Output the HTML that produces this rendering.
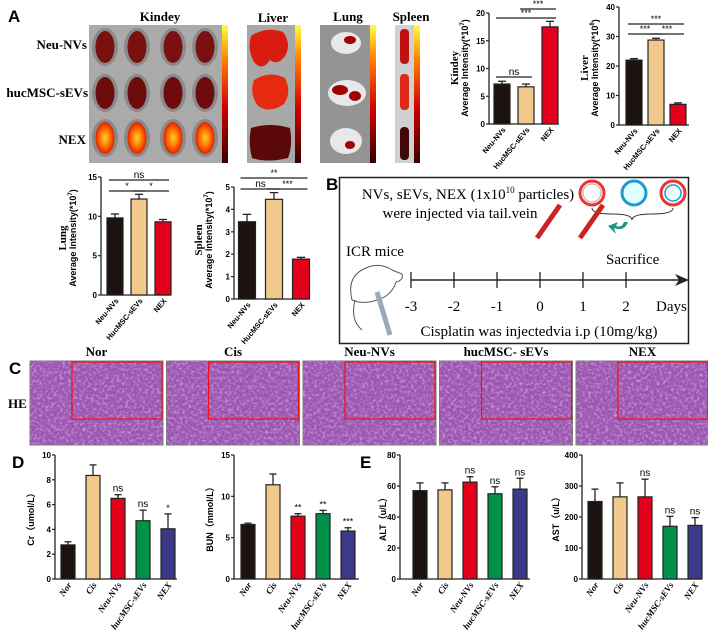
<!DOCTYPE html>
<html><head><meta charset="utf-8"><style>
html,body{margin:0;padding:0;background:#fff;}
svg{display:block;font-family:"Liberation Sans",sans-serif;}
.serif{font-family:"Liberation Serif",serif;}
</style></head><body>
<svg id="fig" width="708" height="641" viewBox="0 0 708 641" xmlns="http://www.w3.org/2000/svg">
<defs>
<filter id="noise" x="0" y="0" width="100%" height="100%"><feTurbulence type="fractalNoise" baseFrequency="0.9" numOctaves="2" seed="3"/><feColorMatrix type="matrix" values="0 0 0 0 0.55  0 0 0 0 0.55  0 0 0 0 0.55  0 0 0 0.6 0"/></filter>
<filter id="tissue" x="0" y="0" width="100%" height="100%"><feTurbulence type="fractalNoise" baseFrequency="0.35" numOctaves="3" seed="7"/><feColorMatrix type="matrix" values="0 0 0 0 0.9  0 0 0 0 0.85  0 0 0 0 0.95  1.6 0 0 0 -0.7"/></filter>
<linearGradient id="cbar" x1="0" y1="1" x2="0" y2="0"><stop offset="0" stop-color="#3a0000"/><stop offset="0.4" stop-color="#d00000"/><stop offset="0.75" stop-color="#ff8000"/><stop offset="1" stop-color="#ffff40"/></linearGradient>
<radialGradient id="hot"><stop offset="0" stop-color="#ffd030"/><stop offset="0.6" stop-color="#ff6a00"/><stop offset="1" stop-color="#e02000"/></radialGradient>
</defs>

<text x="8" y="22" font-size="17" font-weight="bold">A</text>
<text x="326" y="190" font-size="17" font-weight="bold">B</text>
<text x="9" y="374" font-size="17" font-weight="bold">C</text>
<text x="12" y="468" font-size="17" font-weight="bold">D</text>
<text x="360" y="468" font-size="17" font-weight="bold">E</text>

<g class="serif" font-weight="bold">
<text x="160" y="21" font-size="13" text-anchor="middle">Kindey</text>
<text x="273" y="22" font-size="13" text-anchor="middle">Liver</text>
<text x="348" y="21" font-size="13" text-anchor="middle">Lung</text>
<text x="411" y="21" font-size="13" text-anchor="middle">Spleen</text>
<text x="87" y="49" font-size="13" text-anchor="end">Neu-NVs</text>
<text x="88" y="97" font-size="13" text-anchor="end">hucMSC-sEVs</text>
<text x="86" y="144" font-size="13" text-anchor="end">NEX</text>
</g>
<g id="imaging">
<rect x="89" y="25" width="133" height="138" fill="#a6a6a6"/>
<rect x="89" y="25" width="133" height="138" filter="url(#noise)" opacity="0.5"/>
<rect x="222" y="25" width="6" height="138" fill="url(#cbar)"/>
<rect x="247" y="25" width="48" height="138" fill="#a8a8a8"/>
<rect x="295" y="25" width="6" height="138" fill="url(#cbar)"/>
<rect x="320" y="25" width="50" height="138" fill="#8c8c8c"/>
<rect x="320" y="25" width="50" height="138" filter="url(#noise)" opacity="0.5"/>
<rect x="370" y="25" width="6" height="138" fill="url(#cbar)"/>
<rect x="395" y="25" width="19" height="138" fill="#d0d0d0"/>
<rect x="414" y="25" width="6" height="138" fill="url(#cbar)"/>
<path d="M251 36 Q266 26 283 32 Q292 44 285 56 Q278 66 270 60 Q262 72 254 62 Q247 50 251 36Z" fill="#d81c10"/>
<path d="M254 80 Q270 70 285 78 Q292 92 284 104 Q270 114 258 106 Q249 94 254 80Z" fill="#e62a10"/>
<path d="M251 128 Q270 122 290 128 Q293 145 288 158 Q268 163 252 158 Q248 142 251 128Z" fill="#5a0808"/>
<g fill="#e8e8e8"><ellipse cx="346" cy="43" rx="15" ry="11"/><ellipse cx="347" cy="93" rx="19" ry="13"/><ellipse cx="346" cy="141" rx="16" ry="13"/></g>
<g fill="#a00000"><ellipse cx="350" cy="40" rx="6" ry="4"/><ellipse cx="340" cy="90" rx="8" ry="5"/><ellipse cx="355" cy="96" rx="6" ry="5"/><ellipse cx="350" cy="145" rx="5" ry="4"/></g>
<rect x="400" y="29" width="9" height="35" rx="4" fill="#c01010"/>
<rect x="400" y="74" width="9" height="36" rx="4" fill="#e02818"/>
<rect x="400" y="127" width="9" height="33" rx="4" fill="#400808"/>
</g>

<g>
<rect x="339.5" y="177.5" width="349" height="166" fill="none" stroke="#222" stroke-width="1.5"/>
<text class="serif" x="468" y="199" font-size="15" text-anchor="middle">NVs, sEVs, NEX (1x10<tspan font-size="9" dy="-6">10</tspan><tspan dy="6"> particles)</tspan></text>
<text class="serif" x="460" y="218" font-size="15" text-anchor="middle">were injected via tail.vein</text>
<g>
<circle cx="592" cy="193" r="12" fill="none" stroke="#e33" stroke-width="3"/><circle cx="592" cy="193" r="9" fill="#fff" stroke="#aaa" stroke-width="1"/>
<circle cx="634" cy="193" r="12" fill="#dff" stroke="#29c" stroke-width="3"/>
<circle cx="673" cy="193" r="12" fill="#eff" stroke="#e33" stroke-width="3"/><circle cx="673" cy="193" r="8" fill="none" stroke="#29c" stroke-width="1.5"/>
<path d="M592 208 Q592 214 612 214 Q632 214 632 220 Q632 214 652 214 Q673 214 673 208" fill="none" stroke="#333"/>
<path d="M628 222 Q624 232 614 228 L616 234 L608 226 L618 222 L616 226 Q622 228 624 222Z" fill="#1a9a7a"/>
</g>
<text class="serif" x="346" y="256" font-size="15">ICR mice</text>
<path d="M352 300 Q346 276 366 268 Q380 262 392 270 L402 274 Q404 280 396 282 Q394 290 386 296 Q372 304 358 302Z" fill="#fff" stroke="#555"/>
<path d="M355 300 Q350 320 362 330" fill="none" stroke="#555"/>
<line x1="377" y1="292" x2="390" y2="335" stroke="#9ab" stroke-width="5"/>
<line x1="537" y1="238" x2="560" y2="205" stroke="#c22" stroke-width="5"/>
<line x1="580" y1="238" x2="603" y2="205" stroke="#c22" stroke-width="5"/>
<text class="serif" x="606" y="264" font-size="15">Sacrifice</text>
<line x1="411" y1="280" x2="684" y2="280" stroke="#222" stroke-width="1.5"/>
<path d="M689 280 L675 274 L679 280 L675 286Z" fill="#222"/>
<g id="timeline" class="serif" font-size="15"></g>
<text class="serif" x="656" y="311" font-size="15">Days</text>
<text class="serif" x="539" y="336" font-size="15" text-anchor="middle">Cisplatin was injectedvia i.p (10mg/kg)</text>
</g>

<g id="histo"></g>
<text class="serif" x="8" y="408" font-size="13" font-weight="bold">HE</text>

<g id="charts"></g>
</svg>
<script>
const groupsA = ["Neu-NVs","HucMSC-sEVs","NEX"];
const colorsA = ["#1c1210","#f2c98c","#e3001b"];
const kidneyVals = [7.2, 6.7, 17.5];
const kidneyErrs = [0.5, 0.5, 1.0];
const kidneyTicks = [0,5,10,15,20];
const liverVals = [22, 28.8, 7];
const liverErrs = [0.5, 0.6, 0.5];
const liverTicks = [0,10,20,30,40];
const lungVals = [9.8, 12.2, 9.3];
const lungErrs = [0.5, 0.6, 0.3];
const lungTicks = [0,5,10,15];
const spleenVals = [3.45, 4.45, 1.78];
const spleenErrs = [0.33, 0.3, 0.08];
const spleenTicks = [0,1,2,3,4,5];
const groupsD = ["Nor","Cis","Neu-NVs","hucMSC-sEVs","NEX"];
const colorsD = ["#1c1210","#f2c98c","#e3001b","#00904a","#3c3a88"];
const crVals = [2.75, 8.35, 6.5, 4.7, 4.05];
const crErrs = [0.25, 0.85, 0.3, 0.85, 1.2];
const crTicks = [0,2,4,6,8,10];
const crSig = ["","","ns","ns","*"];
const bunVals = [6.6, 11.4, 7.6, 7.9, 5.8];
const bunErrs = [0.15, 1.3, 0.3, 0.4, 0.4];
const bunTicks = [0,5,10,15];
const bunSig = ["","","**","**","***"];
const altVals = [57, 57.5, 62.5, 55, 58];
const altErrs = [5, 4.5, 3.5, 4.5, 7];
const altTicks = [0,20,40,60,80];
const altSig = ["","","ns","ns","ns"];
const astVals = [250, 265, 265, 170, 173];
const astErrs = [40, 45, 57, 32, 25];
const astTicks = [0,100,200,300,400];
const astSig = ["","","ns","ns","ns"];
const dayLabels = ["-3","-2","-1","0","1","2"];
const heTitles = ["Nor","Cis","Neu-NVs","hucMSC- sEVs","NEX"];

const NS="http://www.w3.org/2000/svg";
function mk(tag, attrs, parent){const e=document.createElementNS(NS,tag);for(const k in attrs)e.setAttribute(k,attrs[k]);parent.appendChild(e);return e;}
const charts=document.getElementById('charts');

function chart(o){
  const g=mk('g',{},charts);
  
  
  const y=v=>o.bottom-(v/o.max)*(o.bottom-o.top);
  const x=i=>o.ax+o.off+i*o.step;
  const ya=mk('line',{x1:o.ax,y1:o.top,x2:o.ax,y2:o.bottom,stroke:'#222','stroke-width':1.3},g);
  
  
  const xa=mk('line',{x1:o.ax,y1:o.bottom,x2:o.end,y2:o.bottom,stroke:'#222','stroke-width':1.3},g);
  
  
  o.ticks.forEach(t=>{
    mk('line',{x1:o.ax-3,y1:y(t),x2:o.ax,y2:y(t),stroke:'#222','stroke-width':1.2},g);
    const tl=mk('text',{x:o.ax-4,y:y(t)+3,'font-size':8,'text-anchor':'end','font-weight':'bold'},g);
    tl.textContent=t;
    
    
  });
  o.vals.forEach((v,i)=>{
    const cx=x(i);
    const et=y(v+o.errs[i]);
    mk('line',{x1:cx,y1:et,x2:cx,y2:y(v),stroke:'#222','stroke-width':1.3},g);
    mk('line',{x1:cx-o.bw/4,y1:et,x2:cx+o.bw/4,y2:et,stroke:'#222','stroke-width':1.3},g);
    const b=mk('rect',{x:cx-o.bw/2,y:y(v),width:o.bw,height:o.bottom-y(v),fill:o.colors[i],stroke:'#222','stroke-width':1.2},g);
    
    
    const lab=mk('text',{transform:`translate(${cx+4},${o.bottom+6}) rotate(${o.rot})`,'font-size':o.lfs,'text-anchor':'end','font-weight':'bold'},g);
    if(o.serif){lab.setAttribute('font-family','Liberation Serif, serif');lab.setAttribute('font-style','italic');}
    lab.textContent=o.cats[i];
    
    
    if(o.sig && o.sig[i]){
      const s=mk('text',{x:cx,y:et-3,'font-size':o.sig[i]==='ns'?10:9,'text-anchor':'middle'},g);
      s.textContent=o.sig[i];
      
      
    }
  });
  (o.brackets||[]).forEach(br=>{
    const x1=x(br[0])-o.bw/2+2, x2=x(br[1])+o.bw/2-2;
    mk('line',{x1:x1,y1:br[2],x2:x2,y2:br[2],stroke:'#222','stroke-width':1.3},g);
    const s=mk('text',{x:(x1+x2)/2,y:br[2]-2,'font-size':br[3]==='ns'?10:9,'text-anchor':'middle'},g);
    s.textContent=br[3];
    
    
  });
  const tg=mk('g',{transform:`translate(${o.tx},${o.ty}) rotate(-90)`},g);
  if(o.t1){const t=mk('text',{x:0,y:0,'font-size':11,'font-weight':'bold','text-anchor':'middle','font-family':'Liberation Serif, serif'},tg);t.textContent=o.t1;
    
    }
  const t2=mk('text',{x:0,y:o.t1?10:0,'font-size':9,'font-weight':'bold','text-anchor':'middle'},tg);
  t2.textContent=o.t2;
  
  
  if(o.sup){const sp=mk('tspan',{'font-size':6,dy:-4},t2);sp.textContent=o.sup;const r=mk('tspan',{dy:4},t2);r.textContent=')';}
}
const A={cats:groupsA,colors:colorsA,rot:-50,lfs:7.5,bw:16};
chart({...A,name:'kidney-chart',ax:489,bottom:124,top:13,max:20,ticks:kidneyTicks,vals:kidneyVals,errs:kidneyErrs,off:13,step:24,end:559,
  brackets:[[0,1,77,'ns'],[0,2,18,'***'],[1,2,9,'***']],tx:458,ty:68,t1:'Kindey',t2:'Average Intensity(*10',sup:'7'});
chart({...A,name:'liver-chart',ax:619,bottom:125,top:7,max:40,ticks:liverTicks,vals:liverVals,errs:liverErrs,off:15,step:22,end:689,
  brackets:[[0,2,24,'***'],[0,1,34,'***'],[1,2,34,'***']],tx:588,ty:68,t1:'Liver',t2:'Average Intensity(*10',sup:'8'});
chart({...A,name:'lung-chart',ax:101,bottom:295,top:177,max:15,ticks:lungTicks,vals:lungVals,errs:lungErrs,off:14,step:24,end:170,
  brackets:[[0,2,180,'ns'],[0,1,191,'*'],[1,2,191,'*']],tx:66,ty:238,t1:'Lung',t2:'Average Intensity(*10',sup:'7'});
chart({...A,name:'spleen-chart',ax:234,bottom:299,top:187,max:5,ticks:spleenTicks,vals:spleenVals,errs:spleenErrs,off:13,step:27,bw:17,end:309,
  brackets:[[0,2,178,'**'],[0,1,189,'ns'],[1,2,189,'***']],tx:202,ty:240,t1:'Spleen',t2:'Average Intensity(*10',sup:'7'});
const D={cats:groupsD,colors:colorsD,rot:-55,lfs:9,bw:14,serif:true,bottom:579,top:455,step:25};
chart({...D,name:'cr-chart',ax:55,max:10,ticks:crTicks,vals:crVals,errs:crErrs,sig:crSig,off:13,end:177,tx:34,ty:517,t2:'Cr（umol/L）'});
chart({...D,name:'bun-chart',ax:234,max:15,ticks:bunTicks,vals:bunVals,errs:bunErrs,sig:bunSig,off:14,end:359,tx:213,ty:517,t2:'BUN（mmol/L）'});
chart({...D,name:'alt-chart',ax:400,max:80,ticks:altTicks,vals:altVals,errs:altErrs,sig:altSig,off:20,end:530,tx:386,ty:517,t2:'ALT（u/L）'});
chart({...D,name:'ast-chart',ax:582,max:400,ticks:astTicks,vals:astVals,errs:astErrs,sig:astSig,off:13,end:702,tx:559,ty:517,t2:'AST（u/L）'});

const tl=document.getElementById('timeline');
dayLabels.forEach((d,i)=>{
  const xx=411+i*43;
  mk('line',{x1:xx,y1:272,x2:xx,y2:288,stroke:'#222','stroke-width':1.3},tl);
  const t=mk('text',{x:xx,y:311,'text-anchor':'middle'},tl);
  t.textContent=d;
  
  
});
const hg=document.getElementById('histo');
heTitles.forEach((h,i)=>{
  const x0=30+i*136.5, w=133;
  const r=mk('rect',{x:x0,y:361,width:w,height:84,fill:'#9c55b2',stroke:'#777','stroke-width':1},hg);
  
  
  mk('rect',{x:x0,y:361,width:w,height:84,filter:'url(#tissue)',opacity:0.7},hg);
  mk('rect',{x:x0+42,y:362,width:w-43,height:57,fill:'none',stroke:'#f01010','stroke-width':1.2},hg);
  const t=mk('text',{x:x0+w/2,y:356,'text-anchor':'middle','font-size':13,'font-weight':'bold','font-family':'Liberation Serif, serif'},hg);
  t.textContent=h;
  
  
});
const img=document.getElementById('imaging');
const kx=[105,137,173,205], ky=[47,93,138], kf=['#7a1010','#6e0c0c','url(#hot)'];
ky.forEach((yy,r)=>kx.forEach(xx=>{
  mk('ellipse',{cx:xx,cy:yy,rx:13,ry:19,fill:'#8a8a8a'},img);
  mk('ellipse',{cx:xx,cy:yy,rx:9.5,ry:16,fill:kf[r]},img);
}));
</script>
</body></html>
